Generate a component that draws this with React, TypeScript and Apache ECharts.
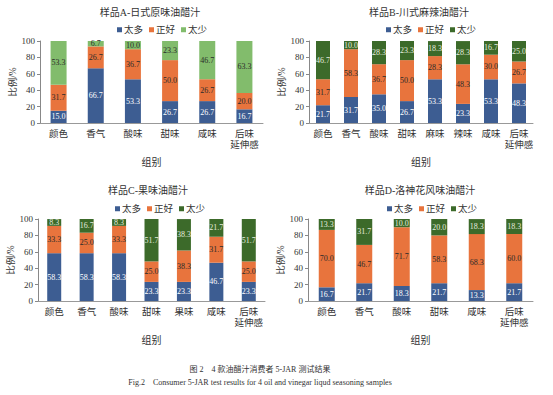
import React, { useEffect, useRef } from "react";
import * as echarts from "echarts";

const FONT = '"Liberation Serif", "Noto Sans CJK SC", serif';

const SERIES_NAMES = ["太多", "正好", "太少"];

const titleA = "样品A-日式原味油醋汁";
const catsA = ["颜色", "香气", "酸味", "甜味", "咸味", "后味\n延伸感"];
const overA = [15.0, 66.7, 53.3, 26.7, 26.7, 16.7];
const okA = [31.7, 26.7, 36.7, 50.0, 26.7, 20.0];
const underA = [53.3, 6.7, 10.0, 23.3, 46.7, 63.3];

const titleB = "样品B-川式麻辣油醋汁";
const catsB = ["颜色", "香气", "酸味", "甜味", "麻味", "辣味", "咸味", "后味\n延伸感"];
const overB = [21.7, 31.7, 35.0, 26.7, 53.3, 23.3, 53.3, 48.3];
const okB = [31.7, 58.3, 36.7, 50.0, 28.3, 48.3, 30.0, 26.7];
const underB = [46.7, 10.0, 28.3, 23.3, 18.3, 28.3, 16.7, 25.0];

const titleC = "样品C-果味油醋汁";
const catsC = ["颜色", "香气", "酸味", "甜味", "果味", "咸味", "后味\n延伸感"];
const overC = [58.3, 58.3, 58.3, 23.3, 23.3, 46.7, 23.3];
const okC = [33.3, 25.0, 33.3, 25.0, 38.3, 31.7, 25.0];
const underC = [8.3, 16.7, 8.3, 51.7, 38.3, 21.7, 51.7];

const titleD = "样品D-洛神花风味油醋汁";
const catsD = ["颜色", "香气", "酸味", "甜味", "咸味", "后味\n延伸感"];
const overD = [16.7, 21.7, 18.3, 21.7, 13.3, 21.7];
const okD = [70.0, 46.7, 71.7, 58.3, 68.3, 60.0];
const underD = [13.3, 31.7, 10.0, 20.0, 18.3, 18.3];

const yTicks = [0, 20, 40, 60, 80, 100];
const xName = "组别";
const yName = "比例/%";
const captionZh = "图 2    4 款油醋汁消费者 5-JAR 测试结果";
const captionEn = "Fig.2    Consumer 5-JAR test results for 4 oil and vinegar liqud seasoning samples";

const BLUE = "#3d5d92";
const ORANGE = "#e8743d";
const LIGHT_GREEN = "#82bc6c";
const DARK_GREEN = "#3c6a2a";

type Panel = {
  title: string;
  cats: string[];
  over: number[];
  ok: number[];
  under: number[];
  green: string;
  underLabel: string;
  grid: { left: number; top: number; width: number; height: number };
  cx: number;
  titleY: number;
  legendY: number;
  barWidth: number;
};

const panels: Panel[] = [
  { title: titleA, cats: catsA, over: overA, ok: okA, under: underA, green: LIGHT_GREEN, underLabel: "#2a2a2a",
    grid: { left: 40, top: 41, width: 223, height: 82 }, cx: 150, titleY: 12, legendY: 26, barWidth: 16 },
  { title: titleB, cats: catsB, over: overB, ok: okB, under: underB, green: DARK_GREEN, underLabel: "#e4eadf",
    grid: { left: 309, top: 41, width: 224, height: 82 }, cx: 419, titleY: 12, legendY: 26, barWidth: 14 },
  { title: titleC, cats: catsC, over: overC, ok: okC, under: underC, green: DARK_GREEN, underLabel: "#e4eadf",
    grid: { left: 38, top: 219, width: 227, height: 82 }, cx: 148, titleY: 190, legendY: 205, barWidth: 14 },
  { title: titleD, cats: catsD, over: overD, ok: okD, under: underD, green: DARK_GREEN, underLabel: "#e4eadf",
    grid: { left: 308, top: 219, width: 225, height: 82 }, cx: 420, titleY: 190, legendY: 205, barWidth: 16 },
];

function buildOption() {
  const grid: any[] = [];
  const xAxis: any[] = [];
  const yAxis: any[] = [];
  const series: any[] = [];
  const legend: any[] = [];
  const graphic: any[] = [];

  panels.forEach((p, i) => {
    grid.push({ ...p.grid, containLabel: false });
    xAxis.push({
      type: "category",
      gridIndex: i,
      data: p.cats,
      name: xName,
      nameLocation: "middle",
      nameGap: 34,
      nameTextStyle: { fontFamily: FONT, fontSize: 10, color: "#333" },
      axisLine: { show: true, lineStyle: { color: "#999", width: 1 } },
      axisTick: { show: false },
      axisLabel: { interval: 0, fontFamily: FONT, fontSize: 9.5, color: "#333", margin: 5, lineHeight: 11 },
    });
    yAxis.push({
      type: "value",
      gridIndex: i,
      min: yTicks[0],
      max: yTicks[yTicks.length - 1],
      interval: 20,
      name: yName,
      nameLocation: "middle",
      nameGap: 22,
      nameRotate: 90,
      nameTextStyle: { fontFamily: FONT, fontSize: 9.5, color: "#333" },
      axisLine: { show: true, lineStyle: { color: "#888", width: 1 } },
      axisTick: { show: true, length: 3, lineStyle: { color: "#888" } },
      splitLine: { show: false },
      axisLabel: { fontFamily: FONT, fontSize: 9, color: "#333", margin: 5 },
    });
    const colors = [BLUE, ORANGE, p.green];
    const labelColors = ["#ffffff", "#2a2a2a", p.underLabel];
    const datas = [p.over, p.ok, p.under];
    datas.forEach((d, k) => {
      series.push({
        type: "bar",
        name: SERIES_NAMES[k],
        xAxisIndex: i,
        yAxisIndex: i,
        stack: "s" + i,
        data: d,
        barWidth: p.barWidth,
        itemStyle: { color: colors[k] },
        label: {
          show: true,
          position: "inside",
          formatter: (pp: any) => Number(pp.value).toFixed(1),
          fontFamily: FONT,
          fontSize: 8,
          color: labelColors[k],
        },
      });
    });
    legend.push({
      left: p.cx - 38,
      top: p.legendY - 6,
      itemWidth: 5,
      itemHeight: 5,
      itemGap: 6,
      icon: "rect",
      textStyle: { fontFamily: FONT, fontSize: 9.5, color: "#333", padding: [0, 0, 0, -3] },
      data: SERIES_NAMES.map((n, k) => ({ name: n, itemStyle: { color: colors[k] } })),
    });
    graphic.push({
      type: "text",
      x: p.cx,
      y: p.titleY,
      style: { text: p.title, fontFamily: FONT, fontSize: 10, fill: "#333", textAlign: "center", textVerticalAlign: "middle" },
    });
  });

  graphic.push({
    type: "text",
    x: 260,
    y: 369,
    style: { text: captionZh, fontFamily: FONT, fontSize: 8, fill: "#333", textAlign: "center", textVerticalAlign: "middle" },
  });
  graphic.push({
    type: "text",
    x: 260,
    y: 382,
    style: { text: captionEn, fontFamily: FONT, fontSize: 8, fill: "#333", textAlign: "center", textVerticalAlign: "middle" },
  });

  return {
    animation: false,
    backgroundColor: "#ffffff",
    grid,
    xAxis,
    yAxis,
    series,
    legend,
    graphic,
  };
}

export default function App() {
  const ref = useRef<HTMLDivElement>(null);
  useEffect(() => {
    document.body.style.margin = "0";
    if (!ref.current) return;
    const chart = echarts.init(ref.current, undefined, { renderer: "svg" });
    chart.setOption(buildOption() as any);
    return () => chart.dispose();
  }, []);
  return <div ref={ref} style={{ width: 553, height: 395 }} />;
}
